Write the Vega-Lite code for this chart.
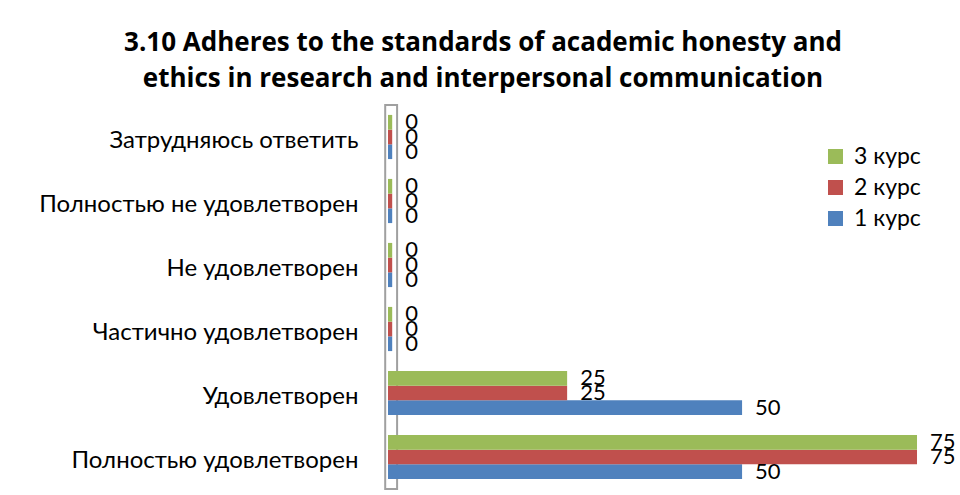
{
  "$schema": "https://vega.github.io/schema/vega-lite/v6.json",
  "autosize": {"type": "none"},
  "width": 564,
  "height": 384,
  "padding": {"left": 388, "top": 105, "right": 8, "bottom": 6},
  "background": "white",
  "config": {
    "view": {"stroke": null},
    "font": "Lato"
  },
  "title": {
    "text": ["3.10 Adheres to the standards of academic honesty and", "ethics in research and interpersonal communication"],
    "font": "Open Sans",
    "fontSize": 26,
    "fontWeight": "bold",
    "color": "#000000",
    "anchor": "middle",
    "dx": -187,
    "offset": 12,
    "lineHeight": 36
  },
  "datasets": {
    "main": [
      {"cat": "Затрудняюсь ответить", "course": "1 курс", "value": 0},
      {"cat": "Затрудняюсь ответить", "course": "2 курс", "value": 0},
      {"cat": "Затрудняюсь ответить", "course": "3 курс", "value": 0},
      {"cat": "Полностью не удовлетворен", "course": "1 курс", "value": 0},
      {"cat": "Полностью не удовлетворен", "course": "2 курс", "value": 0},
      {"cat": "Полностью не удовлетворен", "course": "3 курс", "value": 0},
      {"cat": "Не удовлетворен", "course": "1 курс", "value": 0},
      {"cat": "Не удовлетворен", "course": "2 курс", "value": 0},
      {"cat": "Не удовлетворен", "course": "3 курс", "value": 0},
      {"cat": "Частично удовлетворен", "course": "1 курс", "value": 0},
      {"cat": "Частично удовлетворен", "course": "2 курс", "value": 0},
      {"cat": "Частично удовлетворен", "course": "3 курс", "value": 0},
      {"cat": "Удовлетворен", "course": "1 курс", "value": 50},
      {"cat": "Удовлетворен", "course": "2 курс", "value": 25},
      {"cat": "Удовлетворен", "course": "3 курс", "value": 25},
      {"cat": "Полностью удовлетворен", "course": "1 курс", "value": 50},
      {"cat": "Полностью удовлетворен", "course": "2 курс", "value": 75},
      {"cat": "Полностью удовлетворен", "course": "3 курс", "value": 75}
    ],
    "wall": [{"a": -1, "b": 0.7}]
  },
  "layer": [
    {
      "data": {"name": "wall"},
      "mark": {"type": "rect", "fill": "transparent", "stroke": "#A0A0A0", "strokeWidth": 2},
      "encoding": {
        "x": {"field": "a", "type": "quantitative", "scale": {"domain": [-0.6, 80], "nice": false, "zero": false}, "axis": null},
        "x2": {"field": "b"}
      }
    },
    {
      "data": {"name": "main"},
      "mark": {"type": "bar"},
      "encoding": {
        "y": {
          "field": "cat",
          "type": "nominal",
          "sort": ["Затрудняюсь ответить", "Полностью не удовлетворен", "Не удовлетворен", "Частично удовлетворен", "Удовлетворен", "Полностью удовлетворен"],
          "scale": {"paddingInner": 0.31, "paddingOuter": 0.155},
          "axis": {
            "title": null,
            "ticks": false,
            "domain": false,
            "labelFont": "Lato",
            "labelFontSize": 24,
            "labelColor": "#000000",
            "labelPadding": 30,
            "labelOffset": 4,
            "labelLimit": 400
          }
        },
        "yOffset": {
          "field": "course",
          "type": "nominal",
          "sort": ["3 курс", "2 курс", "1 курс"],
          "scale": {"paddingInner": 0, "paddingOuter": 0}
        },
        "x": {"field": "value", "type": "quantitative"},
        "x2": {"datum": -0.6},
        "color": {
          "field": "course",
          "type": "nominal",
          "scale": {"domain": ["3 курс", "2 курс", "1 курс"], "range": ["#9BBB59", "#C0504D", "#4F81BD"]},
          "legend": {
            "title": null,
            "orient": "none",
            "legendX": 436,
            "legendY": 40,
            "symbolType": "square",
            "symbolSize": 225,
            "symbolStrokeWidth": 0,
            "labelFont": "Lato",
            "labelFontSize": 23,
            "labelColor": "#000000",
            "rowPadding": 7,
            "labelOffset": 7
          }
        }
      }
    },
    {
      "data": {"name": "main"},
      "mark": {"type": "text", "align": "left", "baseline": "middle", "dx": 13, "fontSize": 22, "font": "Lato", "color": "#000000"},
      "encoding": {
        "y": {
          "field": "cat",
          "type": "nominal",
          "sort": ["Затрудняюсь ответить", "Полностью не удовлетворен", "Не удовлетворен", "Частично удовлетворен", "Удовлетворен", "Полностью удовлетворен"]
        },
        "yOffset": {
          "field": "course",
          "type": "nominal",
          "sort": ["3 курс", "2 курс", "1 курс"]
        },
        "x": {"field": "value", "type": "quantitative"},
        "text": {"field": "value", "type": "quantitative"}
      }
    }
  ]
}
